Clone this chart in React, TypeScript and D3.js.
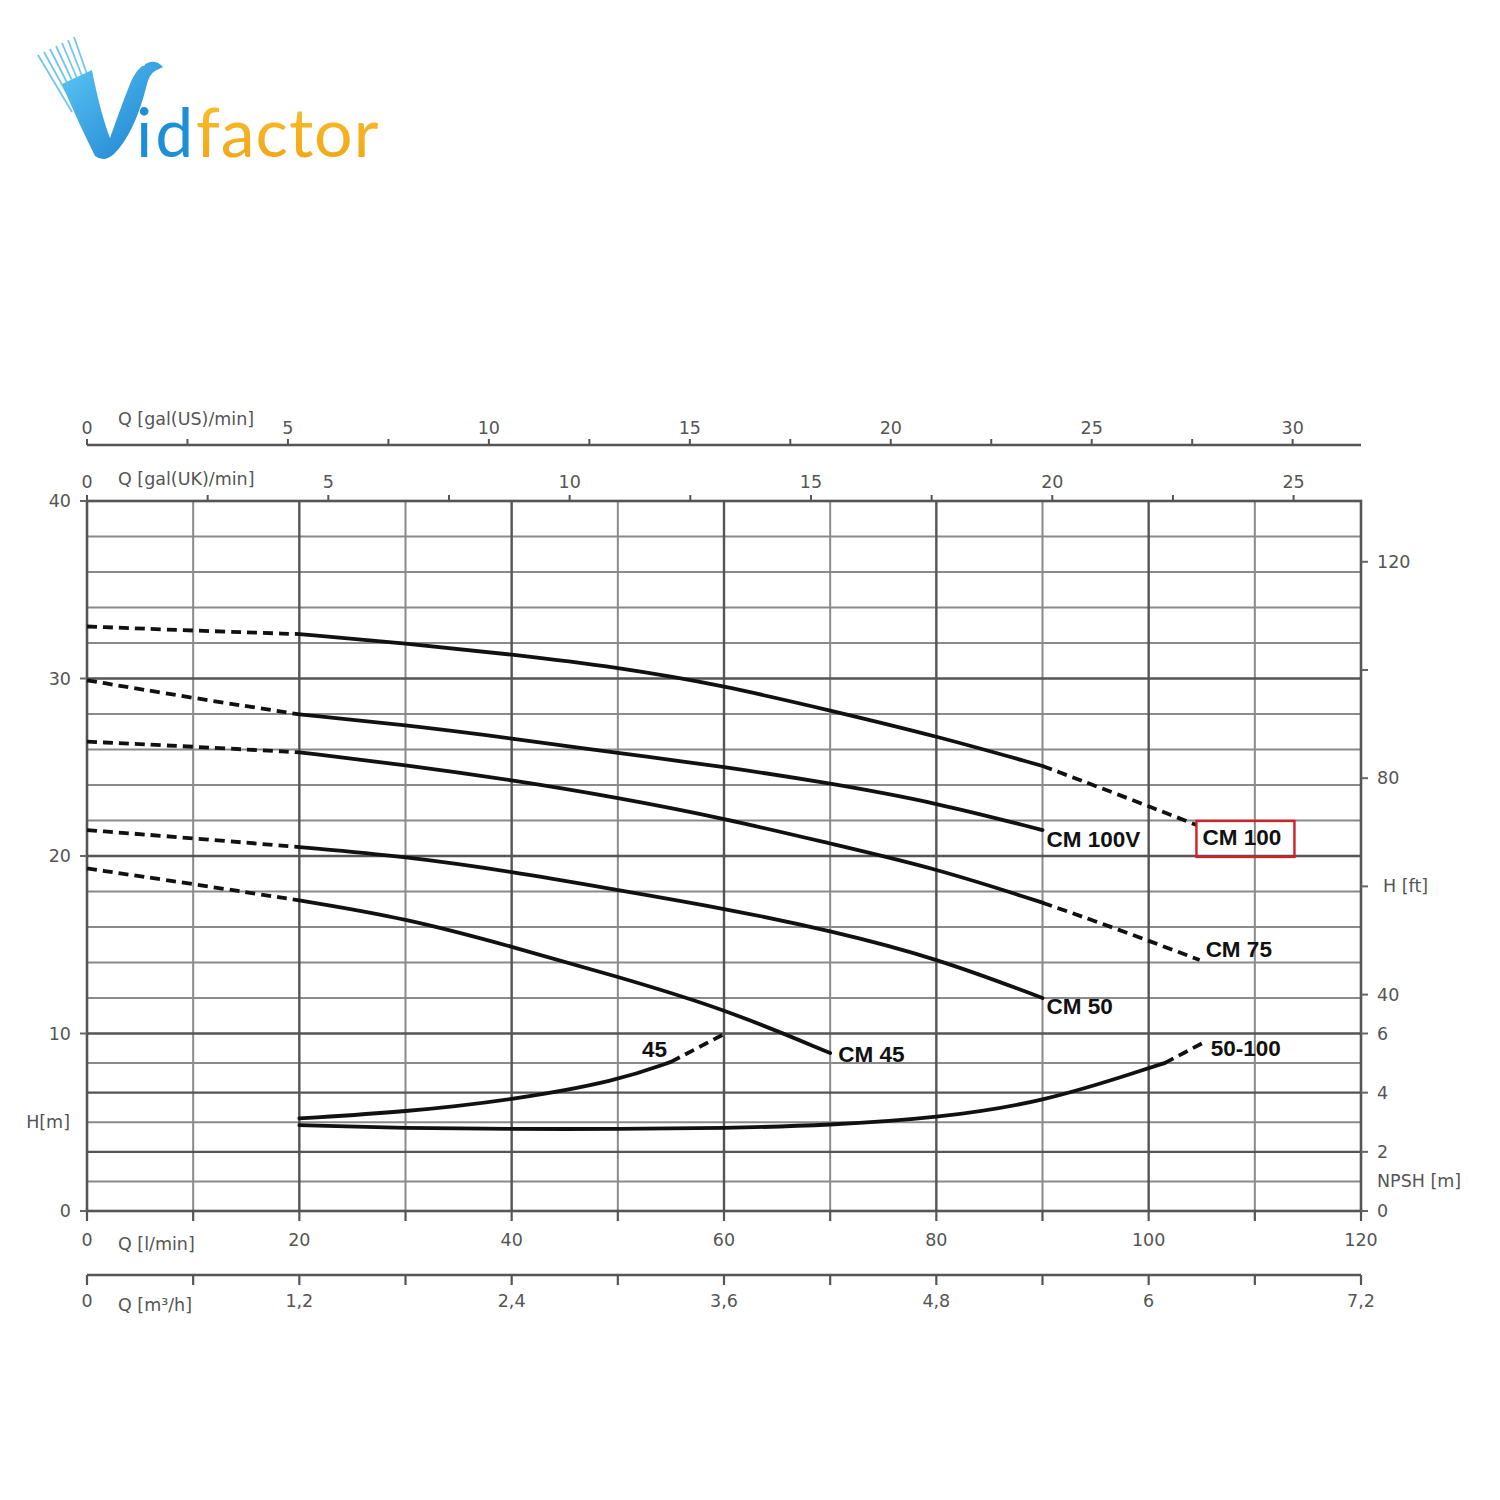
import React from 'react';
import * as d3 from 'd3';

// ---------- DATA ----------
// Q in l/min, H in m
const cm100DashStartQ = [0, 10, 20];
const cm100DashStartH = [32.93, 32.7, 32.5];
const cm100Q = [20, 30, 40, 50, 60, 70, 80, 90];
const cm100H = [32.5, 31.98, 31.36, 30.63, 29.6, 28.2, 26.76, 25.07];
const cm100DashEndQ = [90, 97, 104.5];
const cm100DashEndH = [25.07, 23.5, 21.75];

const cm100VDashStartQ = [0, 10, 20];
const cm100VDashStartH = [29.9, 28.9, 27.98];
const cm100VQ = [20, 30, 40, 50, 60, 70, 80, 90];
const cm100VH = [27.98, 27.38, 26.63, 25.8, 25.03, 24.1, 23.0, 21.46];

const cm75DashStartQ = [0, 10, 20];
const cm75DashStartH = [26.44, 26.16, 25.84];
const cm75Q = [20, 30, 40, 50, 60, 70, 80, 90];
const cm75H = [25.84, 25.13, 24.28, 23.29, 22.12, 20.7, 19.3, 17.37];
const cm75DashEndQ = [90, 97, 104.8];
const cm75DashEndH = [17.37, 15.9, 14.14];

const cm50DashStartQ = [0, 10, 20];
const cm50DashStartH = [21.46, 21.0, 20.5];
const cm50Q = [20, 30, 40, 50, 60, 70, 80, 90];
const cm50H = [20.5, 19.97, 19.12, 18.08, 17.05, 15.8, 14.25, 12.0];

const cm45DashStartQ = [0, 10, 20];
const cm45DashStartH = [19.3, 18.42, 17.5];
const cm45Q = [20, 30, 40, 50, 60, 70];
const cm45H = [17.5, 16.5, 14.9, 13.2, 11.4, 8.9];

// NPSH curves (m, NPSH scale)
const npsh45Q = [20, 30, 40, 50, 55];
const npsh45V = [3.13, 3.35, 3.75, 4.4, 5.04];
const npsh45DashQ = [55, 60];
const npsh45DashV = [5.04, 5.98];

const npsh50Q = [20, 30, 40, 50, 60, 70, 80, 90, 100, 101.5];
const npsh50V = [2.9, 2.8, 2.77, 2.77, 2.8, 2.9, 3.14, 3.67, 4.83, 5.0];
const npsh50DashQ = [101.5, 105.1];
const npsh50DashV = [5.0, 5.68];

// Axis ticks
const hTicksLabeled = [0, 10, 20, 30, 40];
const lpmTicks = [0, 10, 20, 30, 40, 50, 60, 70, 80, 90, 100, 110, 120];
const lpmLabels = [0, 20, 40, 60, 80, 100, 120];
const m3Ticks = [0, 0.6, 1.2, 1.8, 2.4, 3.0, 3.6, 4.2, 4.8, 5.4, 6.0, 6.6, 7.2];
const m3Labels = [0, 1.2, 2.4, 3.6, 4.8, 6.0, 7.2];
const usTicks = [0, 2.5, 5, 7.5, 10, 12.5, 15, 17.5, 20, 22.5, 25, 27.5, 30];
const usLabels = [0, 5, 10, 15, 20, 25, 30];
const ukTicks = [0, 2.5, 5, 7.5, 10, 12.5, 15, 17.5, 20, 22.5, 25];
const ukLabels = [0, 5, 10, 15, 20, 25];
const ftTicks = [40, 60, 80, 100, 120];
const ftLabels = [40, 80, 120];
const npshTicks = [0, 2, 4, 6];

const L_PER_US_GAL = 3.78541;
const L_PER_UK_GAL = 4.54609;
const M_PER_FT = 0.3048;

// ---------- SCALES ----------
const x = d3.scaleLinear().domain([0, 120]).range([87, 1361]);
const y = d3.scaleLinear().domain([0, 40]).range([1211, 501]);
const yN = d3.scaleLinear().domain([0, 6]).range([y(0), y(10)]);
const yFt = d3.scaleLinear().domain([0, 40 / M_PER_FT]).range([y(0), y(40)]);
const xUS = d3.scaleLinear().domain([0, 120 / L_PER_US_GAL]).range([x(0), x(120)]);
const xUK = d3.scaleLinear().domain([0, 120 / L_PER_UK_GAL]).range([x(0), x(120)]);
const xM3 = d3.scaleLinear().domain([0, 7.2]).range([x(0), x(120)]);

const zip = (a: number[], b: number[]) => a.map((v, i) => [v, b[i]] as [number, number]);

const lineH = d3.line<[number, number]>().x(d => x(d[0])).y(d => y(d[1])).curve(d3.curveBasis);
const lineN = d3.line<[number, number]>().x(d => x(d[0])).y(d => yN(d[1])).curve(d3.curveBasis);

const comma = (v: number) => d3.format('~g')(v).replace('.', ',');

const AXIS_FONT = '"DejaVu Sans", "Liberation Sans", Arial, sans-serif';
const LABEL_FONT = '"Liberation Sans", Arial, Helvetica, sans-serif';
const AXIS_COLOR = '#555';
const AXIS_SIZE = 17.5;

function Logo() {
  const streaks = [0, 1, 2, 3, 4, 5, 6];
  return (
    <g>
      <defs>
        <linearGradient id="vgrad" x1="0" y1="0" x2="1" y2="1">
          <stop offset="0" stopColor="#5cc6f3" />
          <stop offset="1" stopColor="#1a7fd0" />
        </linearGradient>
        <linearGradient id="fgrad" x1="0" y1="0" x2="0" y2="1">
          <stop offset="0" stopColor="#f9c233" />
          <stop offset="1" stopColor="#efa312" />
        </linearGradient>
      </defs>
      {streaks.map(i => (
        <line key={i} x1={38 + i * 6} y1={55 - i * 3} x2={72 + i * 4} y2={112 - i * 2}
          stroke="#52b9ee" strokeWidth={1.8} opacity={0.8} />
      ))}
      <path d="M62 84 L92 70 Q100 112 110 138 Q122 104 130 84 Q137 66 150 62 Q158 61 163 67 L155 71 Q149 74 146 88 Q134 134 114 154 Q104 163 95 156 Q78 122 62 84 Z"
        fill="url(#vgrad)" />
      <circle cx={143} cy={64} r={2} fill="#ffffff" />
      <text x={136} y={157} fontFamily="Lato, 'Open Sans', sans-serif" fontSize={68} fill="#1c8fd6" letterSpacing={3}>id</text>
      <text x={196} y={157} fontFamily="Lato, 'Open Sans', sans-serif" fontSize={68} fill="url(#fgrad)" letterSpacing={1}>factor</text>
    </g>
  );
}

export default function App() {
  const hGrid = [12, 14, 16, 18, 22, 24, 26, 28, 32, 34, 36, 38];
  const hGridMajor = [10, 20, 30];
  const nGrid = [1, 3, 5];
  const nGridMajor = [2, 4];
  const vGrid = [10, 30, 50, 70, 90, 110];
  const vGridMajor = [20, 40, 60, 80, 100];

  const solid = { fill: 'none', stroke: '#111', strokeWidth: 3.8, strokeLinecap: 'round' as const };
  const dashed = { fill: 'none', stroke: '#111', strokeWidth: 3.8, strokeDasharray: '10,6' };

  const hCurves = [
    { start: zip(cm100DashStartQ, cm100DashStartH), main: zip(cm100Q, cm100H), end: zip(cm100DashEndQ, cm100DashEndH) },
    { start: zip(cm100VDashStartQ, cm100VDashStartH), main: zip(cm100VQ, cm100VH), end: null },
    { start: zip(cm75DashStartQ, cm75DashStartH), main: zip(cm75Q, cm75H), end: zip(cm75DashEndQ, cm75DashEndH) },
    { start: zip(cm50DashStartQ, cm50DashStartH), main: zip(cm50Q, cm50H), end: null },
    { start: zip(cm45DashStartQ, cm45DashStartH), main: zip(cm45Q, cm45H), end: null },
  ];

  const lastOf = (a: number[]) => a[a.length - 1];

  return (
    <div style={{ position: 'absolute', left: 0, top: 0, width: 1500, height: 1500, background: '#fff' }}>
      <svg width={1500} height={1500} viewBox="0 0 1500 1500" style={{ display: 'block' }}>
        <rect x={0} y={0} width={1500} height={1500} fill="#ffffff" />
        <Logo />

        {/* grid */}
        <g>
          {hGrid.map(v => <line key={'h' + v} x1={x(0)} x2={x(120)} y1={y(v)} y2={y(v)} stroke="#8a8a8a" strokeWidth={2} />)}
          {nGrid.map(v => <line key={'n' + v} x1={x(0)} x2={x(120)} y1={yN(v)} y2={yN(v)} stroke="#8a8a8a" strokeWidth={2} />)}
          {vGrid.map(v => <line key={'v' + v} x1={x(v)} x2={x(v)} y1={y(0)} y2={y(40)} stroke="#8a8a8a" strokeWidth={2} />)}
          {hGridMajor.map(v => <line key={'hm' + v} x1={x(0)} x2={x(120)} y1={y(v)} y2={y(v)} stroke="#555" strokeWidth={2.4} />)}
          {nGridMajor.map(v => <line key={'nm' + v} x1={x(0)} x2={x(120)} y1={yN(v)} y2={yN(v)} stroke="#555" strokeWidth={2.4} />)}
          {vGridMajor.map(v => <line key={'vm' + v} x1={x(v)} x2={x(v)} y1={y(0)} y2={y(40)} stroke="#555" strokeWidth={2.4} />)}
          <rect x={x(0)} y={y(40)} width={x(120) - x(0)} height={y(0) - y(40)} fill="none" stroke="#555" strokeWidth={2.6} />
        </g>

        {/* left H axis */}
        <g fontFamily={AXIS_FONT} fontSize={AXIS_SIZE} fill={AXIS_COLOR}>
          {hTicksLabeled.map(v => (
            <g key={'lt' + v}>
              <line x1={x(0) - 7} x2={x(0)} y1={y(v)} y2={y(v)} stroke="#666" strokeWidth={2} />
              <text x={71} y={y(v)} textAnchor="end" dominantBaseline="central">{v}</text>
            </g>
          ))}
          <text x={70} y={yN(3)} textAnchor="end" dominantBaseline="central">H[m]</text>
        </g>

        {/* right axes: H[ft] and NPSH */}
        <g fontFamily={AXIS_FONT} fontSize={AXIS_SIZE} fill={AXIS_COLOR}>
          {ftTicks.map(v => <line key={'ft' + v} x1={x(120)} x2={x(120) + 7} y1={yFt(v)} y2={yFt(v)} stroke="#666" strokeWidth={2} />)}
          {ftLabels.map(v => <text key={'ftl' + v} x={1377} y={yFt(v)} dominantBaseline="central">{v}</text>)}
          <text x={1383} y={yFt(60)} dominantBaseline="central">H [ft]</text>
          {npshTicks.map(v => (
            <g key={'np' + v}>
              <line x1={x(120)} x2={x(120) + 7} y1={yN(v)} y2={yN(v)} stroke="#666" strokeWidth={2} />
              <text x={1377} y={yN(v)} dominantBaseline="central">{v}</text>
            </g>
          ))}
          <text x={1377} y={yN(1)} dominantBaseline="central">NPSH [m]</text>
        </g>

        {/* bottom l/min axis */}
        <g fontFamily={AXIS_FONT} fontSize={AXIS_SIZE} fill={AXIS_COLOR}>
          {lpmTicks.map(v => <line key={'lp' + v} x1={x(v)} x2={x(v)} y1={y(0)} y2={y(0) + 10} stroke="#555" strokeWidth={2.2} />)}
          {lpmLabels.map(v => <text key={'lpl' + v} x={x(v)} y={1246} textAnchor="middle">{v}</text>)}
          <text x={118} y={1250}>Q [l/min]</text>
        </g>

        {/* bottom m3/h axis */}
        <g fontFamily={AXIS_FONT} fontSize={AXIS_SIZE} fill={AXIS_COLOR}>
          <line x1={xM3(0)} x2={xM3(7.2)} y1={1275} y2={1275} stroke="#555" strokeWidth={2.4} />
          {m3Ticks.map(v => <line key={'m3' + v} x1={xM3(v)} x2={xM3(v)} y1={1275} y2={1285} stroke="#555" strokeWidth={2.2} />)}
          {m3Labels.map(v => <text key={'m3l' + v} x={xM3(v)} y={1307} textAnchor="middle">{comma(v)}</text>)}
          <text x={118} y={1311}>Q [m³/h]</text>
        </g>

        {/* top US gal axis */}
        <g fontFamily={AXIS_FONT} fontSize={AXIS_SIZE} fill={AXIS_COLOR}>
          <line x1={x(0)} x2={x(120)} y1={445} y2={445} stroke="#555" strokeWidth={2.4} />
          {usTicks.map(v => <line key={'us' + v} x1={xUS(v)} x2={xUS(v)} y1={445} y2={439} stroke="#555" strokeWidth={2} />)}
          {usLabels.map(v => <text key={'usl' + v} x={xUS(v)} y={434} textAnchor="middle">{v}</text>)}
          <text x={118} y={425}>Q [gal(US)/min]</text>
        </g>

        {/* top UK gal axis */}
        <g fontFamily={AXIS_FONT} fontSize={AXIS_SIZE} fill={AXIS_COLOR}>
          {ukTicks.map(v => <line key={'uk' + v} x1={xUK(v)} x2={xUK(v)} y1={501} y2={495} stroke="#555" strokeWidth={2} />)}
          {ukLabels.map(v => <text key={'ukl' + v} x={xUK(v)} y={488} textAnchor="middle">{v}</text>)}
          <text x={118} y={485}>Q [gal(UK)/min]</text>
        </g>

        {/* H curves */}
        <g>
          {hCurves.map((c, i) => (
            <g key={'c' + i}>
              <path d={lineH(c.start) || ''} {...dashed} />
              <path d={lineH(c.main) || ''} {...solid} />
              {c.end && <path d={lineH(c.end) || ''} {...dashed} />}
            </g>
          ))}
          <path d={lineN(zip(npsh45Q, npsh45V)) || ''} {...solid} />
          <path d={lineN(zip(npsh45DashQ, npsh45DashV)) || ''} {...dashed} />
          <path d={lineN(zip(npsh50Q, npsh50V)) || ''} {...solid} />
          <path d={lineN(zip(npsh50DashQ, npsh50DashV)) || ''} {...dashed} />
        </g>

        {/* curve labels */}
        <g fontFamily={LABEL_FONT} fontWeight="bold" fontSize={22.5} fill="#111">
          <text x={x(lastOf(cm100VQ)) + 4} y={y(lastOf(cm100VH)) + 17}>CM 100V</text>
          <rect x={x(lastOf(cm100DashEndQ))} y={y(lastOf(cm100DashEndH)) - 4} width={98} height={36}
            fill="none" stroke="#d0202a" strokeWidth={2.4} />
          <text x={x(lastOf(cm100DashEndQ)) + 6} y={y(lastOf(cm100DashEndH)) + 20}>CM 100</text>
          <text x={x(lastOf(cm75DashEndQ)) + 6} y={y(lastOf(cm75DashEndH)) - 3}>CM 75</text>
          <text x={x(lastOf(cm50Q)) + 4} y={y(lastOf(cm50H)) + 16}>CM 50</text>
          <text x={x(lastOf(cm45Q)) + 8} y={y(lastOf(cm45H)) + 9}>CM 45</text>
          <text x={x(lastOf(npsh45Q)) - 4} y={yN(lastOf(npsh45V)) - 5} textAnchor="end">45</text>
          <text x={x(lastOf(npsh50DashQ)) + 8} y={yN(lastOf(npsh50DashV)) + 13}>50-100</text>
        </g>
      </svg>
    </div>
  );
}
